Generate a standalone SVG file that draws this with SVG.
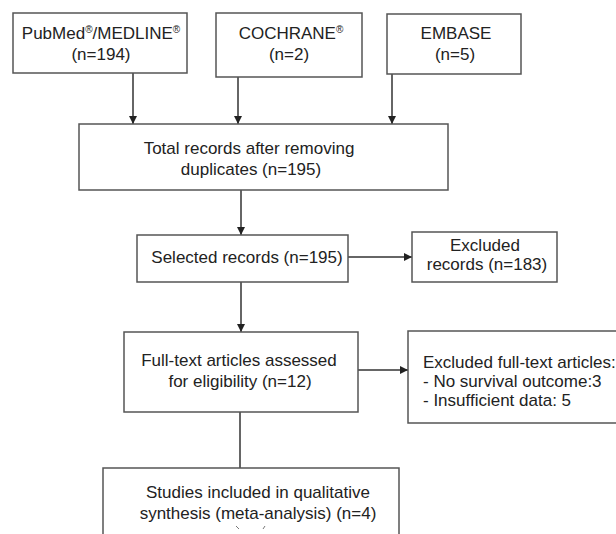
<svg xmlns="http://www.w3.org/2000/svg" width="616" height="534" viewBox="0 0 616 534">
<defs>
<style>
.box{fill:#fff;stroke:#555;stroke-width:1.5}
.t{font-family:"Liberation Sans",Arial,sans-serif;font-size:17px;fill:#222;text-anchor:middle}
.tl{font-family:"Liberation Sans",Arial,sans-serif;font-size:17px;fill:#222;text-anchor:start}
.sup{font-size:10px}
.c{fill:none;stroke:#333;stroke-width:1.5}
</style>
<marker id="arr" markerUnits="userSpaceOnUse" markerWidth="8" markerHeight="8" refX="8" refY="4" orient="auto">
<path d="M0,0 L8,4 L0,8 z" fill="#222"/>
</marker>
</defs>
<rect width="616" height="534" fill="#fff"/>
<g id="connectors">
<line class="c" x1="133" y1="73" x2="133" y2="124" marker-end="url(#arr)"/>
<line class="c" x1="238" y1="77" x2="238" y2="124" marker-end="url(#arr)"/>
<line class="c" x1="392" y1="74" x2="392" y2="124" marker-end="url(#arr)"/>
<line class="c" x1="241" y1="190" x2="241" y2="235" marker-end="url(#arr)"/>
<line class="c" x1="348" y1="257" x2="412" y2="257" marker-end="url(#arr)"/>
<line class="c" x1="241" y1="282" x2="241" y2="332" marker-end="url(#arr)"/>
<line class="c" x1="358" y1="370" x2="408" y2="370" marker-end="url(#arr)"/>
<line class="c" x1="240" y1="412" x2="240" y2="468"/>
</g>
<g id="pubmed">
<rect class="box" x="13" y="13" width="174" height="60"/>
<text class="t" x="101" y="39">PubMed<tspan class="sup" dy="-6">®</tspan><tspan dy="6">/MEDLINE</tspan><tspan class="sup" dy="-6">®</tspan></text>
<text class="t" x="101" y="60">(n=194)</text>
</g>
<g id="cochrane">
<rect class="box" x="216" y="13" width="146" height="64"/>
<text class="t" x="291" y="39">COCHRANE<tspan class="sup" dy="-6">®</tspan></text>
<text class="t" x="289" y="60">(n=2)</text>
</g>
<g id="embase">
<rect class="box" x="387" y="14" width="134" height="60"/>
<text class="t" x="456" y="39">EMBASE</text>
<text class="t" x="455" y="60">(n=5)</text>
</g>
<g id="total">
<rect class="box" x="79" y="124" width="369" height="66"/>
<text class="t" x="249" y="154">Total records after removing</text>
<text class="t" x="251" y="175">duplicates (n=195)</text>
</g>
<g id="selected">
<rect class="box" x="137" y="235" width="211" height="47"/>
<text class="t" x="247" y="263">Selected records (n=195)</text>
</g>
<g id="excluded-records">
<rect class="box" x="412" y="232" width="145" height="50"/>
<text class="t" x="485" y="251">Excluded</text>
<text class="t" x="487" y="270">records (n=183)</text>
</g>
<g id="fulltext">
<rect class="box" x="124" y="332" width="234" height="80"/>
<text class="t" x="239" y="366">Full-text articles assessed</text>
<text class="t" x="240" y="387">for eligibility (n=12)</text>
</g>
<g id="excluded-fulltext">
<rect class="box" x="408" y="331" width="230" height="92"/>
<text class="tl" x="423" y="368">Excluded full-text articles:</text>
<text class="tl" x="423" y="387">- No survival outcome:3</text>
<text class="tl" x="423" y="406">- Insufficient data: 5</text>
</g>
<g id="studies">
<rect class="box" x="103" y="468" width="296" height="80"/>
<text class="t" x="258" y="498">Studies included in qualitative</text>
<text class="t" x="258" y="519">synthesis (meta-analysis) (n=4)</text>
<path d="M236,526 L239,529 M265,526 L263,529" stroke="#777" stroke-width="1" fill="none"/>
</g>
</svg>
